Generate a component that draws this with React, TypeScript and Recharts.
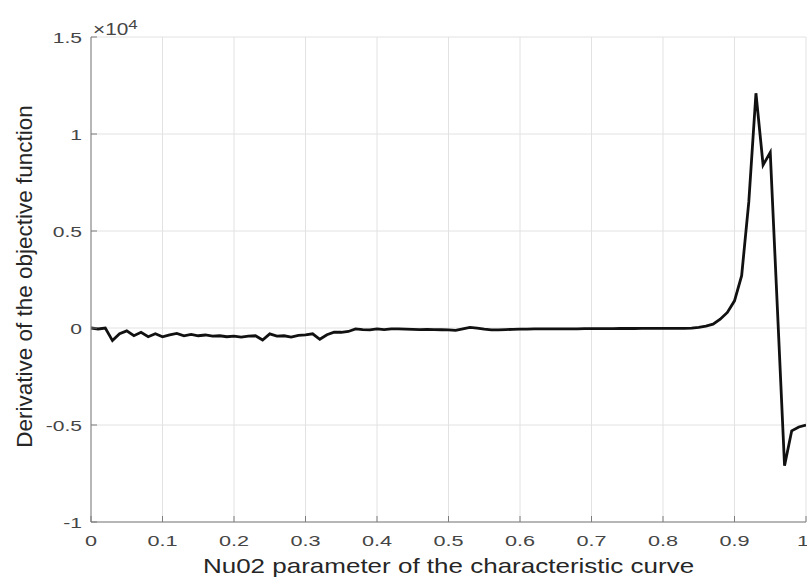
import React from "react";
import {LineChart, Line, XAxis, YAxis, CartesianGrid} from "recharts";

// Nu02 parameter, step 0.01
const nu02 = Array.from({length: 101}, (_, i) => i / 100);

// derivative of the objective function (raw units, axis shows x10^4)
const derivative = [
    0, -50, 0, -650, -300, -150, -400, -220, -450, -300,
    -450, -350, -280, -400, -330, -400, -360, -420, -400, -450,
    -420, -470, -420, -400, -620, -300, -420, -400, -470, -380,
    -350, -300, -580, -350, -220, -220, -180, -50, -80, -100,
    -50, -80, -50, -50, -60, -70, -80, -70, -80, -90,
    -100, -120, -40, 30, -10, -60, -100, -100, -80, -70,
    -60, -55, -50, -50, -45, -45, -40, -40, -40, -35,
    -35, -30, -30, -30, -25, -25, -25, -20, -20, -20,
    -20, -20, -20, -15, -10, 30, 100, 200, 450, 800,
    1400, 2700, 6500, 12100, 8400, 9050, 1000, -7100, -5300, -5100,
    -5000,
];

const xTicks = [0, 0.1, 0.2, 0.3, 0.4, 0.5, 0.6, 0.7, 0.8, 0.9, 1];
const yTicks = [-10000, -5000, 0, 5000, 10000, 15000];

const data = nu02.map((x, i) => ({x, y: derivative[i]}));

const font = "Liberation Sans, Arial, sans-serif";
const axisColor = "#7d7d7d";

// matlab export looks stretched sideways, so squash text back with scaleX
const XTick = (props: any) => {
    const {x, y, payload} = props;
    return (
        <g transform={`translate(${x},${y}) scale(1.4,1)`}>
            <text x={0} y={0} dy="0.71em" textAnchor="middle" fill="#454545"
                  fontSize={15.5} fontFamily={font}>{String(payload.value)}</text>
        </g>
    );
}

const YTick = (props: any) => {
    const {x, y, payload} = props;
    return (
        <g transform={`translate(${x},${y}) scale(1.36,1)`}>
            <text x={0} y={0} dy="0.36em" textAnchor="end" fill="#454545"
                  fontSize={15.5} fontFamily={font}>{String(payload.value / 10000)}</text>
        </g>
    );
}

const XTitle = (props: any) => {
    const {viewBox} = props;
    const cx = viewBox.x + viewBox.width / 2;
    return (
        <g transform={`translate(${cx},573) scale(1.3,1)`}>
            <text x={0} y={0} textAnchor="middle" fill="#262626" fontSize={20} fontFamily={font}>
                Nu02 parameter of the characteristic curve
            </text>
        </g>
    );
}

const YTitle = (props: any) => {
    const {viewBox} = props;
    const cy = viewBox.y + viewBox.height / 2 - 3;
    return (
        <g transform={`translate(24,${cy}) rotate(-90)`}>
            <text x={0} y={0} dy="0.36em" textAnchor="middle" fill="#262626" fontSize={22.5} fontFamily={font}>
                Derivative of the objective function
            </text>
        </g>
    );
}

const App = () => {
    return (
        <div style={{position: "absolute", left: 0, top: 0, width: 807, height: 579, background: "#fff"}}>
            <LineChart width={807} height={579} data={data}
                       margin={{top: 37, right: 1, bottom: 0, left: 0}}>
                <CartesianGrid stroke="#e2e2e2" strokeWidth={1}
                               horizontalValues={yTicks} verticalValues={xTicks}/>
                <XAxis dataKey="x" type="number" domain={[0, 1]} ticks={xTicks}
                       allowDataOverflow height={57}
                       stroke={axisColor} tickSize={-6} tickMargin={19}
                       tick={<XTick/>}
                       label={<XTitle/>}/>
                <XAxis xAxisId="top" orientation="top" dataKey="x" type="number" domain={[0, 1]}
                       ticks={xTicks} height={0} stroke={axisColor} tickSize={-6}
                       tickFormatter={() => ""}/>
                <YAxis type="number" domain={[-10000, 15000]} ticks={yTicks}
                       width={91} stroke={axisColor} tickSize={-6} tickMargin={15}
                       tick={<YTick/>}
                       label={<YTitle/>}/>
                <YAxis yAxisId="right" orientation="right" type="number" domain={[-10000, 15000]}
                       ticks={yTicks} width={0} stroke={axisColor} tickSize={-6}
                       tickFormatter={() => ""}/>
                <Line type="linear" dataKey="y" stroke="#111" strokeWidth={2.8}
                      dot={false} isAnimationActive={false}/>
            </LineChart>
            <div style={{
                position: "absolute", left: 93, top: 17, color: "#454545", lineHeight: "16px",
                fontSize: 16, fontFamily: font, transform: "scaleX(1.3)", transformOrigin: "left top",
                whiteSpace: "nowrap"
            }}>
                ×10<sup style={{fontSize: 13}}>4</sup>
            </div>
        </div>
    );
}

export default App;
